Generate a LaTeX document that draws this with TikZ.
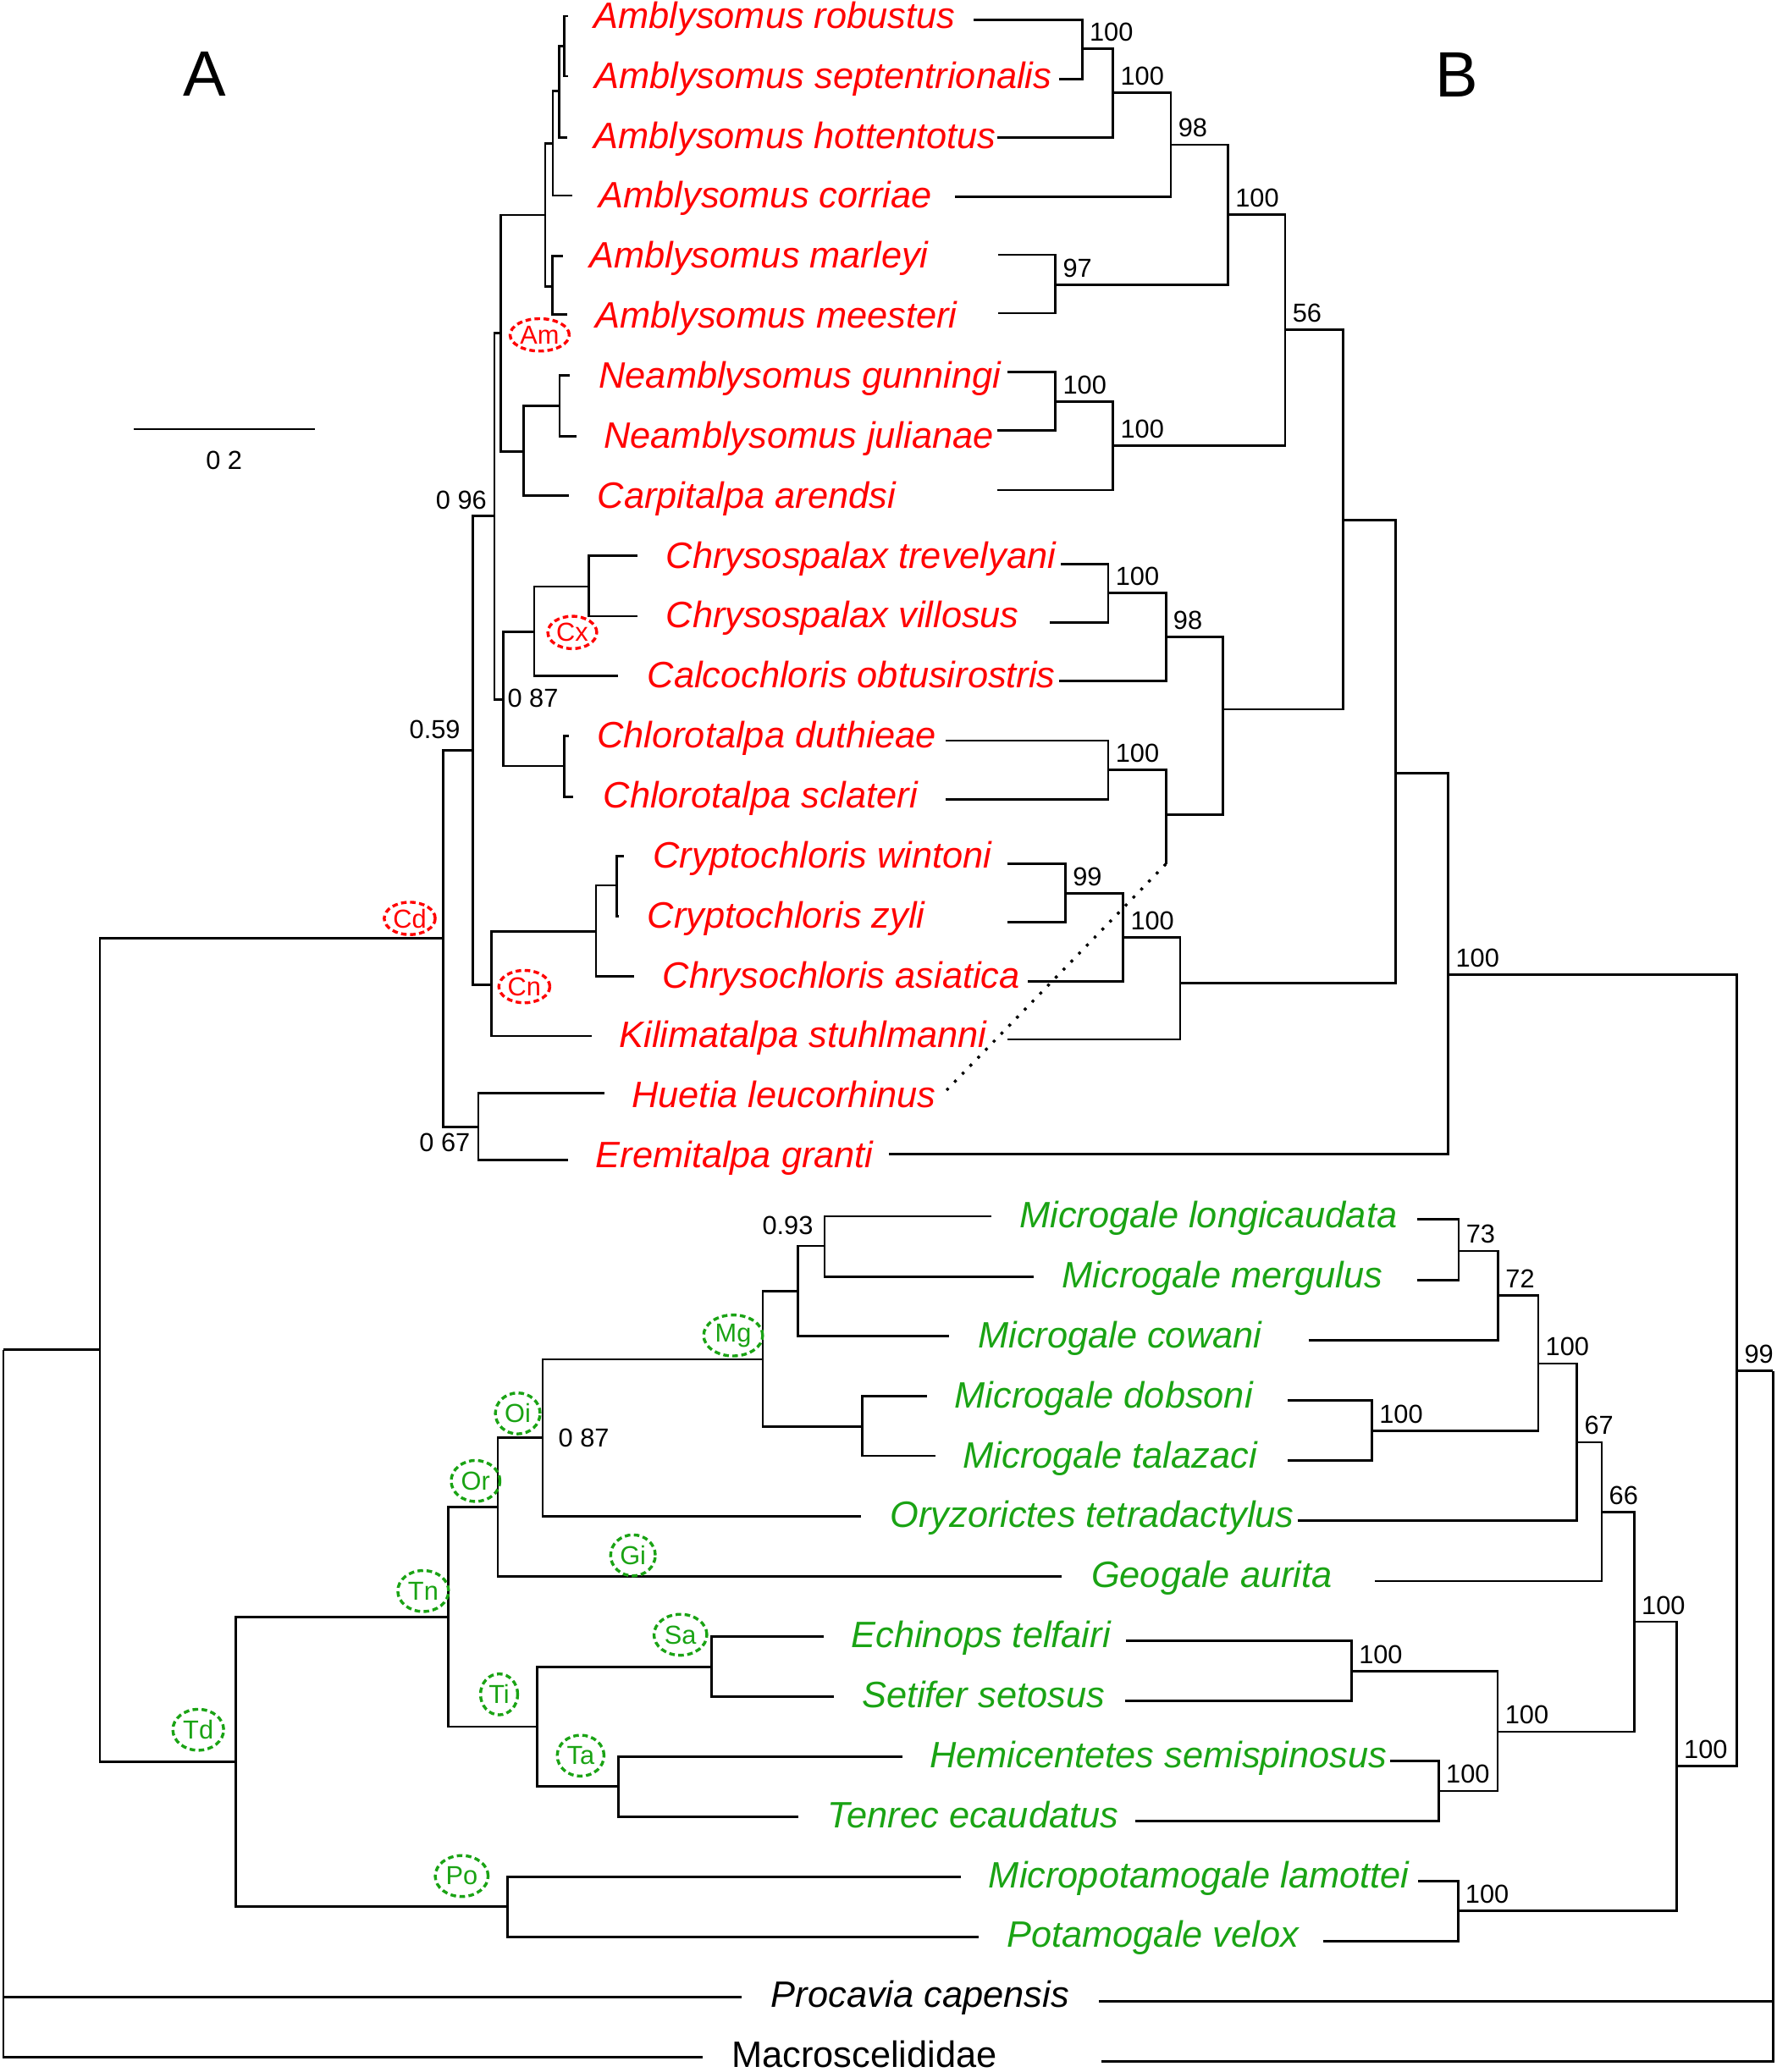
\documentclass[tikz,border=0pt]{standalone}
\usepackage{fontspec}
\setmainfont{Liberation Sans}
\usetikzlibrary{shapes.geometric}
\definecolor{molered}{RGB}{255,0,0}
\definecolor{tenrecgreen}{RGB}{26,163,20}

\begin{document}
\begin{tikzpicture}[x=0.01cm, y=-0.01cm,
  branch/.style={line width=0.5pt},
  spname/.style={anchor=base west, inner sep=0pt, font=\fontsize{7.9}{9}\selectfont\itshape},
  redsp/.style={spname, text=molered},
  greensp/.style={spname, text=tenrecgreen},
  boot/.style={anchor=south west, inner sep=1.4pt, font=\fontsize{5.6}{6.7}\selectfont},
  pplabel/.style={inner sep=0pt, font=\fontsize{5.6}{6.7}\selectfont},
  cladetag/.style={ellipse, draw, dash pattern=on 1.2pt off 0.75pt, line width=0.62pt, inner ysep=0pt, font=\fontsize{5.6}{6.7}\selectfont},
  redtag/.style={cladetag, molered, text=molered, inner xsep=0.3pt, minimum height=0.245cm},
  greentag/.style={cladetag, tenrecgreen, text=tenrecgreen, inner xsep=0.6pt, minimum height=0.31cm},
  panel/.style={inner sep=0pt, font=\fontsize{13.8}{16}\selectfont}
]
\useasboundingbox (0,0) rectangle (1344,1568);

% panel letters and scale bar
\node[panel] (pA) at (154.7,56.3) {A};
\node[panel] (pB) at (1102,56.5) {B};
\coordinate (sbL) at (101.4,324.8);
\coordinate (sbR) at (238,324.8);
\draw[branch] (sbL) -- (sbR);
\node[pplabel] (sbT) at (169.5,348.2) {0 2};

% species names
\node[redsp] (sRob) at (448.7,21.3) {Amblysomus robustus};
\node[redsp] (sSep) at (449.2,66.7) {Amblysomus septentrionalis};
\node[redsp] (sHot) at (448.7,112.1) {Amblysomus hottentotus};
\node[redsp] (sCor) at (452.5,157.5) {Amblysomus corriae};
\node[redsp] (sMar) at (445.4,202.9) {Amblysomus marleyi};
\node[redsp] (sMee) at (450.1,248.3) {Amblysomus meesteri};
\node[redsp] (sGun) at (452.5,293.6) {Neamblysomus gunningi};
\node[redsp] (sJul) at (456.2,339.0) {Neamblysomus julianae};
\node[redsp] (sAre) at (451.5,384.4) {Carpitalpa arendsi};
\node[redsp] (sTre) at (503.2,429.8) {Chrysospalax trevelyani};
\node[redsp] (sVil) at (503.2,475.2) {Chrysospalax villosus};
\node[redsp] (sObt) at (489.1,520.6) {Calcochloris obtusirostris};
\node[redsp] (sDut) at (451.1,566.0) {Chlorotalpa duthieae};
\node[redsp] (sScl) at (455.8,611.4) {Chlorotalpa sclateri};
\node[redsp] (sWin) at (493.3,656.8) {Cryptochloris wintoni};
\node[redsp] (sZyl) at (489.1,702.2) {Cryptochloris zyli};
\node[redsp] (sAsi) at (500.8,747.5) {Chrysochloris asiatica};
\node[redsp] (sStu) at (468.0,792.9) {Kilimatalpa stuhlmanni};
\node[redsp] (sLeu) at (477.4,838.3) {Huetia leucorhinus};
\node[redsp] (sGra) at (450.1,883.7) {Eremitalpa granti};
\node[greensp] (sLon) at (770.7,929.1) {Microgale longicaudata};
\node[greensp] (sMer) at (803.0,974.5) {Microgale mergulus};
\node[greensp] (sCow) at (739.3,1019.9) {Microgale cowani};
\node[greensp] (sDob) at (721.7,1065.3) {Microgale dobsoni};
\node[greensp] (sTal) at (728.1,1110.7) {Microgale talazaci};
\node[greensp] (sTet) at (672.8,1156.1) {Oryzorictes tetradactylus};
\node[greensp] (sAur) at (825.0,1201.5) {Geogale aurita};
\node[greensp] (sTel) at (643.4,1246.8) {Echinops telfairi};
\node[greensp] (sSet) at (651.4,1292.2) {Setifer setosus};
\node[greensp] (sSem) at (702.8,1337.6) {Hemicentetes semispinosus};
\node[greensp] (sEca) at (625.7,1383.0) {Tenrec ecaudatus};
\node[greensp] (sLam) at (747.4,1428.4) {Micropotamogale lamottei};
\node[greensp] (sVel) at (761.1,1473.8) {Potamogale velox};
\node[spname] (sPro) at (582.8,1519.2) {Procavia capensis};
\node[spname, font=\fontsize{7.9}{9}\selectfont] (sMac) at (552.8,1564.6) {Macroscelididae};

% tree A: tips
\coordinate (aRob) at (430,12.2);
\coordinate (aSep) at (430,57.6);
\coordinate (aHot) at (429,103.9);
\coordinate (aCor) at (432.7,148);
\coordinate (aMar) at (425.7,193.6);
\coordinate (aMee) at (429,238);
\coordinate (aGun) at (431.3,283.9);
\coordinate (aJul) at (436,330);
\coordinate (aAre) at (430.4,375.2);
\coordinate (aTre) at (482,420.4);
\coordinate (aVil) at (482,466.3);
\coordinate (aObt) at (467.5,511.6);
\coordinate (aDut) at (430.4,557);
\coordinate (aScl) at (433.7,603);
\coordinate (aWin) at (472.2,647.7);
\coordinate (aZyl) at (468.4,693.5);
\coordinate (aAsi) at (479.7,739);
\coordinate (aStu) at (447.8,784);
\coordinate (aLeu) at (457.2,827);
\coordinate (aGra) at (430,877.8);
\coordinate (aLon) at (750.1,920.4);
\coordinate (aMer) at (782,966.2);
\coordinate (aCow) at (718.3,1011);
\coordinate (aDob) at (701.2,1056.6);
\coordinate (aTal) at (707.5,1101.7);
\coordinate (aTet) at (651.4,1147.6);
\coordinate (aAur) at (803,1193.1);
\coordinate (aTel) at (623,1238.4);
\coordinate (aSet) at (630.8,1283.8);
\coordinate (aSem) at (683.1,1329.3);
\coordinate (aEca) at (604.3,1375);
\coordinate (aLam) at (726.8,1420.4);
\coordinate (aVel) at (740.5,1465.9);
\coordinate (aPro) at (561.4,1511.1);
\coordinate (aMac) at (531.4,1556.6);

% tree A: inner nodes
\coordinate (aRoot) at (2.6,1021.3);
\coordinate (aAfro) at (75.6,1021.3);
\coordinate (aCd) at (335.1,710);
\coordinate (aTd) at (178.3,1333.3);
\coordinate (aN59) at (357.6,567.8);
\coordinate (aN67) at (361.9,852.8);
\coordinate (aN96) at (374,390.3);
\coordinate (aCn) at (371.7,745);
\coordinate (aAm) at (378.7,252);
\coordinate (aN87) at (380.6,529.3);
\coordinate (aAmb) at (412.5,162.6);
\coordinate (aNea) at (396.1,341.5);
\coordinate (aA3) at (418.2,108.4);
\coordinate (aAmm) at (418,216.6);
\coordinate (aA2) at (422.9,68.7);
\coordinate (aA1) at (427,34.9);
\coordinate (aNg) at (423.4,307.3);
\coordinate (aCx) at (404.1,478);
\coordinate (aCs) at (445.4,443.9);
\coordinate (aChl) at (426.7,579.6);
\coordinate (aCr) at (451,705);
\coordinate (aCw) at (466.6,670);
\coordinate (aTn) at (339,1223.7);
\coordinate (aPo) at (384,1442.8);
\coordinate (aOr) at (376.6,1140.4);
\coordinate (aTi) at (406.3,1306.7);
\coordinate (aOi) at (410.5,1087.7);
\coordinate (aMg) at (577.1,1028.7);
\coordinate (aM1) at (603.7,977);
\coordinate (aN93) at (623.8,942.9);
\coordinate (aMd) at (652.2,1079.6);
\coordinate (aSa) at (538.3,1261.4);
\coordinate (aTa) at (468,1351.9);

% tree A: branches
\draw[branch] (aRoot) |- (aAfro) (aRoot) |- (aPro) (aRoot) |- (aMac);
\draw[branch] (aAfro) |- (aCd) (aAfro) |- (aTd);
\draw[branch] (aCd) |- (aN59) (aCd) |- (aN67);
\draw[branch] (aN59) |- (aN96) (aN59) |- (aCn);
\draw[branch] (aN96) |- (aAm) (aN96) |- (aN87);
\draw[branch] (aAm) |- (aAmb) (aAm) |- (aNea);
\draw[branch] (aAmb) |- (aA3) (aAmb) |- (aAmm);
\draw[branch] (aA3) |- (aA2) (aA3) |- (aCor);
\draw[branch] (aA2) |- (aA1) (aA2) |- (aHot);
\draw[branch] (aA1) |- (aRob) (aA1) |- (aSep);
\draw[branch] (aAmm) |- (aMar) (aAmm) |- (aMee);
\draw[branch] (aNea) |- (aNg) (aNea) |- (aAre);
\draw[branch] (aNg) |- (aGun) (aNg) |- (aJul);
\draw[branch] (aN87) |- (aCx) (aN87) |- (aChl);
\draw[branch] (aCx) |- (aCs) (aCx) |- (aObt);
\draw[branch] (aCs) |- (aTre) (aCs) |- (aVil);
\draw[branch] (aChl) |- (aDut) (aChl) |- (aScl);
\draw[branch] (aCn) |- (aCr) (aCn) |- (aStu);
\draw[branch] (aCr) |- (aCw) (aCr) |- (aAsi);
\draw[branch] (aCw) |- (aWin) (aCw) |- (aZyl);
\draw[branch] (aN67) |- (aLeu) (aN67) |- (aGra);
\draw[branch] (aTd) |- (aTn) (aTd) |- (aPo);
\draw[branch] (aTn) |- (aOr) (aTn) |- (aTi);
\draw[branch] (aOr) |- (aOi) (aOr) |- (aAur);
\draw[branch] (aOi) |- (aMg) (aOi) |- (aTet);
\draw[branch] (aMg) |- (aM1) (aMg) |- (aMd);
\draw[branch] (aM1) |- (aN93) (aM1) |- (aCow);
\draw[branch] (aN93) |- (aLon) (aN93) |- (aMer);
\draw[branch] (aMd) |- (aDob) (aMd) |- (aTal);
\draw[branch] (aTi) |- (aSa) (aTi) |- (aTa);
\draw[branch] (aSa) |- (aTel) (aSa) |- (aSet);
\draw[branch] (aTa) |- (aSem) (aTa) |- (aEca);
\draw[branch] (aPo) |- (aLam) (aPo) |- (aVel);

% tree A: posterior probabilities
\node[pplabel] (pp96) at (349,378.5) {0 96};
\node[pplabel] (pp59) at (329,552) {0.59};
\node[pplabel] (pp67) at (336.5,864.5) {0 67};
\node[pplabel] (pp87a) at (403.2,528.5) {0 87};
\node[pplabel] (pp87b) at (441.7,1088.2) {0 87};
\node[pplabel] (pp93) at (596,927.7) {0.93};

% tree A: clade tags
\node[redtag] (tAm) at (408.3,253.4) {Am};
\node[redtag] (tCx) at (433,478.6) {Cx};
\node[redtag] (tCn) at (396.7,746.6) {Cn};
\node[redtag] (tCd) at (310,695) {Cd};
\node[greentag] (tMg) at (554.7,1010.6) {Mg};
\node[greentag] (tOi) at (391.7,1069.6) {Oi};
\node[greentag] (tOr) at (359.8,1120.7) {Or};
\node[greentag] (tGi) at (478.9,1177) {Gi};
\node[greentag] (tTn) at (320.2,1204) {Tn};
\node[greentag] (tSa) at (514.8,1237.1) {Sa};
\node[greentag] (tTi) at (377.6,1282.2) {Ti};
\node[greentag] (tTd) at (150,1309) {Td};
\node[greentag] (tTa) at (439.3,1328.6) {Ta};
\node[greentag] (tPo) at (349.3,1419.7) {Po};

% tree B: tips
\coordinate (bRob) at (736.6,14.9);
\coordinate (bSep) at (801.4,59.8);
\coordinate (bHot) at (754.4,103.9);
\coordinate (bCor) at (722.5,148.8);
\coordinate (bMar) at (755.4,192.7);
\coordinate (bMee) at (755.4,236.9);
\coordinate (bGun) at (762.4,281.7);
\coordinate (bJul) at (754.4,325.9);
\coordinate (bAre) at (754.4,370.9);
\coordinate (bTre) at (802.3,426.8);
\coordinate (bVil) at (794.3,471.2);
\coordinate (bObt) at (801.4,515.4);
\coordinate (bDut) at (715.4,560.5);
\coordinate (bScl) at (715.4,604.8);
\coordinate (bWin) at (762.4,653.8);
\coordinate (bZyl) at (762.4,698);
\coordinate (bAsi) at (777.4,742.5);
\coordinate (bStu) at (762.4,786.6);
\coordinate (bLeu) at (715.4,825.8);
\coordinate (bLeuEnd) at (882.1,653.8);
\coordinate (bGra) at (672.6,873.5);
\coordinate (bLon) at (1072.3,922.8);
\coordinate (bMer) at (1072.3,968.9);
\coordinate (bCow) at (990,1014.2);
\coordinate (bDob) at (974.4,1059.5);
\coordinate (bTal) at (974.4,1105.4);
\coordinate (bTet) at (981.7,1150.7);
\coordinate (bAur) at (1040,1196.5);
\coordinate (bTel) at (852,1241.8);
\coordinate (bSet) at (851.1,1287.2);
\coordinate (bSem) at (1051.7,1332.5);
\coordinate (bEca) at (858.8,1378.2);
\coordinate (bLam) at (1073,1423.6);
\coordinate (bVel) at (1001.1,1468.9);
\coordinate (bPro) at (831.4,1514.7);
\coordinate (bMac) at (833.1,1559.8);

% tree B: inner nodes
\coordinate (bN1) at (818.8,36.9);
\coordinate (bN2) at (842.2,70);
\coordinate (bN3) at (885.9,109.5);
\coordinate (bN4) at (798.6,215.6);
\coordinate (bN5) at (929.1,162.2);
\coordinate (bN6) at (798.6,304.1);
\coordinate (bN7) at (842.2,337.2);
\coordinate (bN8) at (972.3,249.7);
\coordinate (bN9) at (838.5,448.8);
\coordinate (bN10) at (882.1,481.9);
\coordinate (bN11) at (838.5,582.5);
\coordinate (bN12) at (882.1,616.3);
\coordinate (bN13) at (925.4,536.7);
\coordinate (bN14) at (1016,393.4);
\coordinate (bN15) at (806.1,675.9);
\coordinate (bN16) at (849.8,709.5);
\coordinate (bN17) at (892.9,743.8);
\coordinate (bN18) at (1056.1,585);
\coordinate (bN19) at (1095.8,737.5);
\coordinate (bM1) at (1103.6,946.6);
\coordinate (bM2) at (1133.5,980.4);
\coordinate (bM3) at (1038,1082.8);
\coordinate (bM4) at (1163.8,1031.8);
\coordinate (bM5) at (1193.2,1091.4);
\coordinate (bM6) at (1211.8,1144.1);
\coordinate (bM7) at (1022.6,1264.6);
\coordinate (bM8) at (1088.5,1355.3);
\coordinate (bM9) at (1133.1,1310.5);
\coordinate (bM10) at (1236.5,1227.3);
\coordinate (bM11) at (1103.1,1446);
\coordinate (bM12) at (1268.5,1336.5);
\coordinate (bAfro) at (1314.2,1037.5);
\coordinate (bRoot) at (1341.4,1037.5);

% tree B: branches
\draw[branch] (bN1) |- (bRob) (bN1) |- (bSep);
\draw[branch] (bN2) |- (bN1) (bN2) |- (bHot);
\draw[branch] (bN3) |- (bN2) (bN3) |- (bCor);
\draw[branch] (bN4) |- (bMar) (bN4) |- (bMee);
\draw[branch] (bN5) |- (bN3) (bN5) |- (bN4);
\draw[branch] (bN6) |- (bGun) (bN6) |- (bJul);
\draw[branch] (bN7) |- (bN6) (bN7) |- (bAre);
\draw[branch] (bN8) |- (bN5) (bN8) |- (bN7);
\draw[branch] (bN9) |- (bTre) (bN9) |- (bVil);
\draw[branch] (bN10) |- (bN9) (bN10) |- (bObt);
\draw[branch] (bN11) |- (bDut) (bN11) |- (bScl);
\draw[branch] (bN12) |- (bN11) (bN12) |- (bLeuEnd);
\draw[branch, dash pattern=on 0.6pt off 1.8pt, line width=0.6pt] (bLeuEnd) -- (bLeu);
\draw[branch] (bN13) |- (bN10) (bN13) |- (bN12);
\draw[branch] (bN14) |- (bN8) (bN14) |- (bN13);
\draw[branch] (bN15) |- (bWin) (bN15) |- (bZyl);
\draw[branch] (bN16) |- (bN15) (bN16) |- (bAsi);
\draw[branch] (bN17) |- (bN16) (bN17) |- (bStu);
\draw[branch] (bN18) |- (bN14) (bN18) |- (bN17);
\draw[branch] (bN19) |- (bN18) (bN19) |- (bGra);
\draw[branch] (bM1) |- (bLon) (bM1) |- (bMer);
\draw[branch] (bM2) |- (bM1) (bM2) |- (bCow);
\draw[branch] (bM3) |- (bDob) (bM3) |- (bTal);
\draw[branch] (bM4) |- (bM2) (bM4) |- (bM3);
\draw[branch] (bM5) |- (bM4) (bM5) |- (bTet);
\draw[branch] (bM6) |- (bM5) (bM6) |- (bAur);
\draw[branch] (bM7) |- (bTel) (bM7) |- (bSet);
\draw[branch] (bM8) |- (bSem) (bM8) |- (bEca);
\draw[branch] (bM9) |- (bM7) (bM9) |- (bM8);
\draw[branch] (bM10) |- (bM6) (bM10) |- (bM9);
\draw[branch] (bM11) |- (bLam) (bM11) |- (bVel);
\draw[branch] (bM12) |- (bM10) (bM12) |- (bM11);
\draw[branch] (bAfro) |- (bN19) (bAfro) |- (bM12);
\draw[branch] (bRoot) |- (bAfro) (bRoot) |- (bPro) (bRoot) |- (bMac);

% tree B: bootstrap values
\node[boot] at (bN1) {100};
\node[boot] at (bN2) {100};
\node[boot] at (bN3) {98};
\node[boot] at (bN4) {97};
\node[boot] at (bN5) {100};
\node[boot] at (bN6) {100};
\node[boot] at (bN7) {100};
\node[boot] at (bN8) {56};
\node[boot] at (bN9) {100};
\node[boot] at (bN10) {98};
\node[boot] at (bN11) {100};
\node[boot] at (bN15) {99};
\node[boot] at (bN16) {100};
\node[boot] at (bN19) {100};
\node[boot] at (bM1) {73};
\node[boot] at (bM2) {72};
\node[boot] at (bM3) {100};
\node[boot] at (bM4) {100};
\node[boot] at (bM5) {67};
\node[boot] at (bM6) {66};
\node[boot] at (bM7) {100};
\node[boot] at (bM8) {100};
\node[boot] at (bM9) {100};
\node[boot] at (bM10) {100};
\node[boot] at (bM11) {100};
\node[boot] at (bM12) {100};
\node[boot] at (bAfro) {99};
\end{tikzpicture}
\end{document}
